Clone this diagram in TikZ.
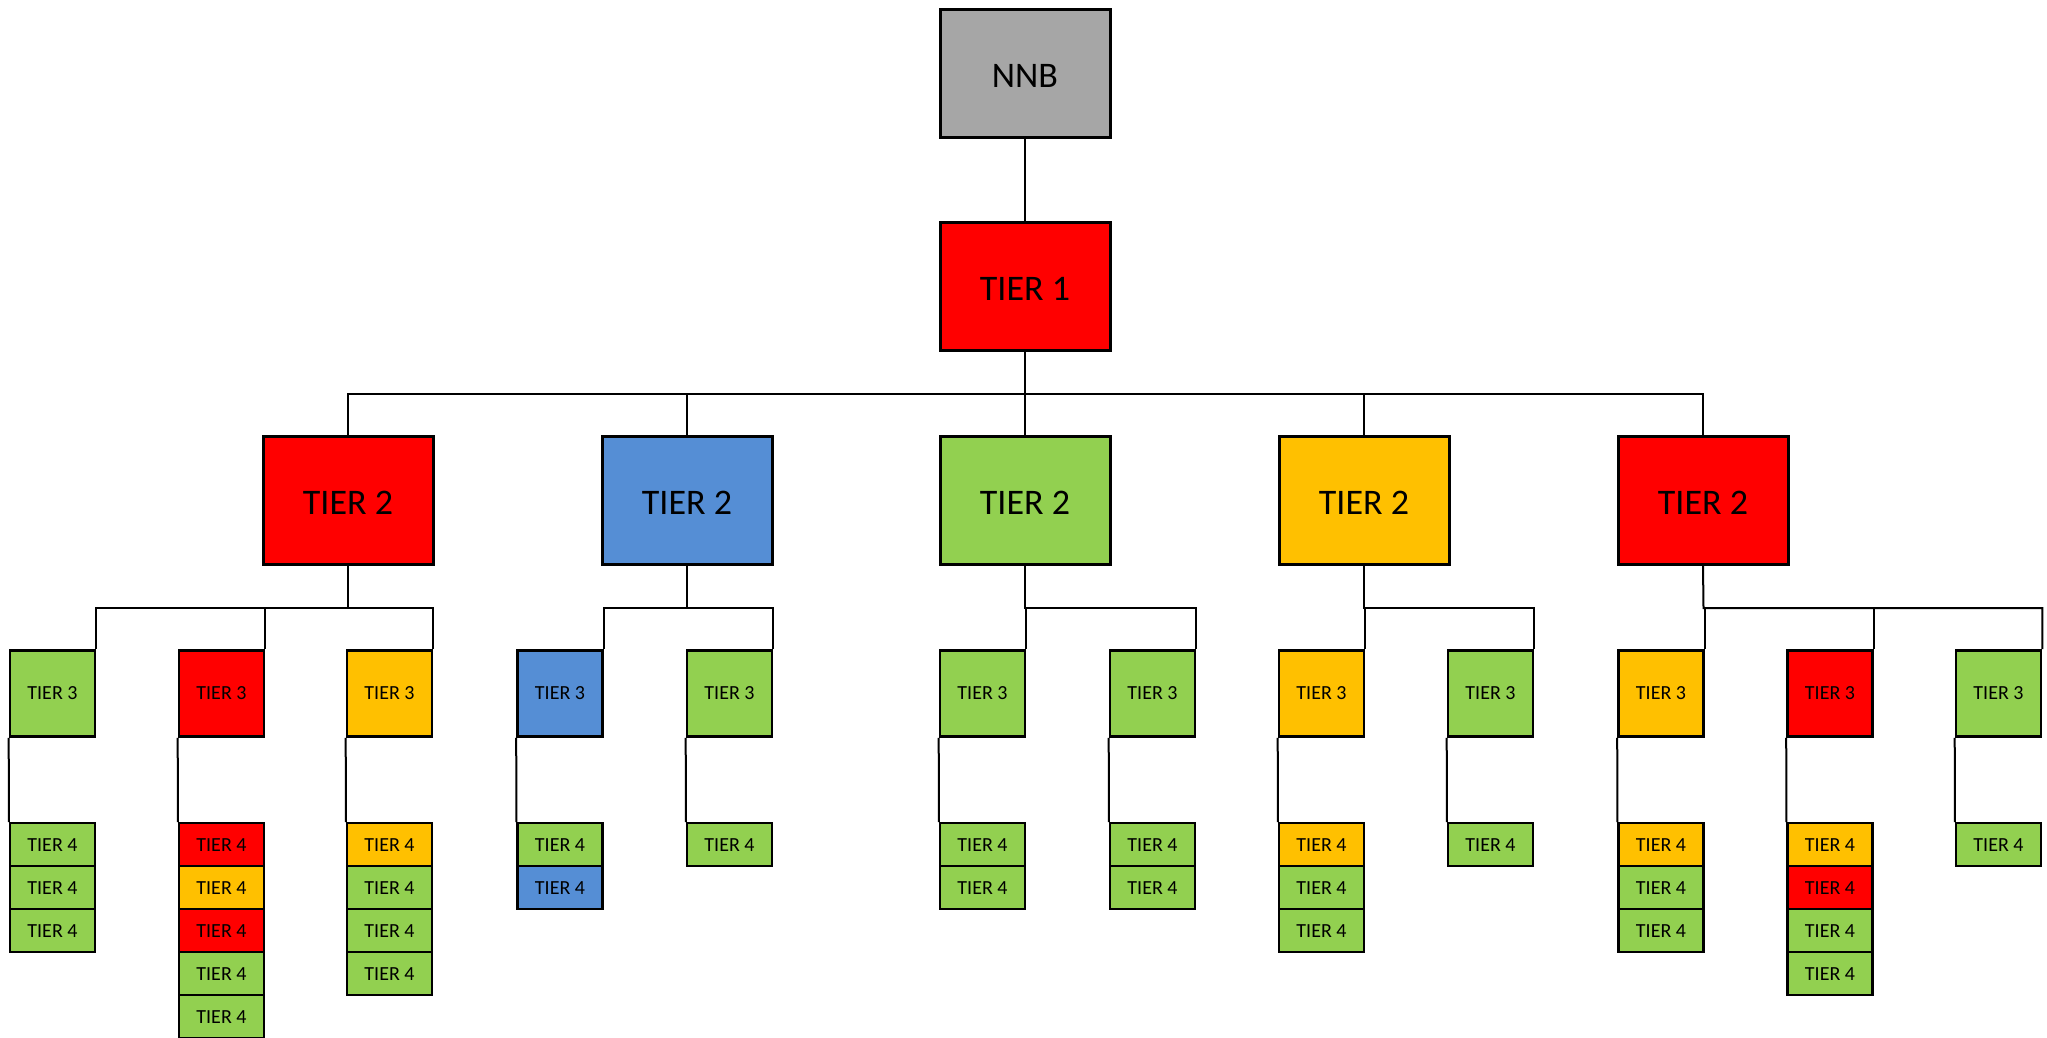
\documentclass[tikz,border=0pt]{standalone}
\usepackage{fontspec}
\setmainfont{Carlito}
\definecolor{cred}{HTML}{FF0000}
\definecolor{cblue}{HTML}{558ED5}
\definecolor{cgreen}{HTML}{92D050}
\definecolor{corange}{HTML}{FFC000}
\definecolor{cgrey}{HTML}{A6A6A6}
\tikzset{
  big/.style={draw, line width=3pt, minimum width=170pt, minimum height=128pt, inner sep=0pt,
    text height=28pt, text depth=0pt, font=\fontsize{36}{40}\selectfont},
  tthree/.style={draw, line width=2.6pt, minimum width=85pt, minimum height=86pt, inner sep=0pt, font=\fontsize{20}{22}\selectfont},
  tfour/.style={draw, line width=2.2pt, minimum width=85pt, minimum height=43pt, inner sep=0pt, anchor=north, font=\fontsize{20}{22}\selectfont},
  link/.style={line width=2pt},
}
\begin{document}
\begin{tikzpicture}[x=1pt,y=-1pt]
\useasboundingbox (0,0) rectangle (2047,1037);

% top levels
\node[big, fill=cgrey] (nnb) at (1025,73) {NNB};
\node[big, fill=cred] (t1) at (1025,286.5) {TIER 1};

% tier 2
\node[big, fill=cred]    (t2a) at (348,500.5)  {TIER 2};
\node[big, fill=cblue]   (t2b) at (687,500.5)  {TIER 2};
\node[big, fill=cgreen]  (t2c) at (1025,500.5) {TIER 2};
\node[big, fill=corange] (t2d) at (1364,500.5) {TIER 2};
\node[big, fill=cred]    (t2e) at (1703,500.5) {TIER 2};

% tier 3
\node[tthree, fill=cgreen]  (t3a1) at (52.5,693.5)   {TIER 3};
\node[tthree, fill=cred]    (t3a2) at (221.5,693.5)  {TIER 3};
\node[tthree, fill=corange] (t3a3) at (389.5,693.5)  {TIER 3};
\node[tthree, fill=cblue]   (t3b1) at (560,693.5)    {TIER 3};
\node[tthree, fill=cgreen]  (t3b2) at (729.5,693.5)  {TIER 3};
\node[tthree, fill=cgreen]  (t3c1) at (982.5,693.5)  {TIER 3};
\node[tthree, fill=cgreen]  (t3c2) at (1152.5,693.5) {TIER 3};
\node[tthree, fill=corange] (t3d1) at (1321.5,693.5) {TIER 3};
\node[tthree, fill=cgreen]  (t3d2) at (1490.5,693.5) {TIER 3};
\node[tthree, fill=corange] (t3e1) at (1661,693.5)   {TIER 3};
\node[tthree, fill=cred]    (t3e2) at (1830,693.5)   {TIER 3};
\node[tthree, fill=cgreen]  (t3e3) at (1998.5,693.5) {TIER 3};

% tier 4 stacks
\node[tfour, fill=cgreen] (t4a1a) at (52.5,822) {TIER 4};
\node[tfour, fill=cgreen] (t4a1b) at (52.5,865) {TIER 4};
\node[tfour, fill=cgreen] (t4a1c) at (52.5,908) {TIER 4};

\node[tfour, fill=cred]    (t4a2a) at (221.5,822) {TIER 4};
\node[tfour, fill=corange] (t4a2b) at (221.5,865) {TIER 4};
\node[tfour, fill=cred]    (t4a2c) at (221.5,908) {TIER 4};
\node[tfour, fill=cgreen]  (t4a2d) at (221.5,951) {TIER 4};
\node[tfour, fill=cgreen]  (t4a2e) at (221.5,994) {TIER 4};

\node[tfour, fill=corange] (t4a3a) at (389.5,822) {TIER 4};
\node[tfour, fill=cgreen]  (t4a3b) at (389.5,865) {TIER 4};
\node[tfour, fill=cgreen]  (t4a3c) at (389.5,908) {TIER 4};
\node[tfour, fill=cgreen]  (t4a3d) at (389.5,951) {TIER 4};

\node[tfour, fill=cgreen] (t4b1a) at (560,822) {TIER 4};
\node[tfour, fill=cblue]  (t4b1b) at (560,865) {TIER 4};

\node[tfour, fill=cgreen] (t4b2a) at (729.5,822) {TIER 4};

\node[tfour, fill=cgreen] (t4c1a) at (982.5,822) {TIER 4};
\node[tfour, fill=cgreen] (t4c1b) at (982.5,865) {TIER 4};

\node[tfour, fill=cgreen] (t4c2a) at (1152.5,822) {TIER 4};
\node[tfour, fill=cgreen] (t4c2b) at (1152.5,865) {TIER 4};

\node[tfour, fill=corange] (t4d1a) at (1321.5,822) {TIER 4};
\node[tfour, fill=cgreen]  (t4d1b) at (1321.5,865) {TIER 4};
\node[tfour, fill=cgreen]  (t4d1c) at (1321.5,908) {TIER 4};

\node[tfour, fill=cgreen] (t4d2a) at (1490.5,822) {TIER 4};

\node[tfour, fill=corange] (t4e1a) at (1661,822) {TIER 4};
\node[tfour, fill=cgreen]  (t4e1b) at (1661,865) {TIER 4};
\node[tfour, fill=cgreen]  (t4e1c) at (1661,908) {TIER 4};

\node[tfour, fill=corange] (t4e2a) at (1830,822) {TIER 4};
\node[tfour, fill=cred]    (t4e2b) at (1830,865) {TIER 4};
\node[tfour, fill=cgreen]  (t4e2c) at (1830,908) {TIER 4};
\node[tfour, fill=cgreen]  (t4e2d) at (1830,951) {TIER 4};

\node[tfour, fill=cgreen] (t4e3a) at (1998.5,822) {TIER 4};

% connectors: top levels
\draw[link] (nnb) -- (t1);
\coordinate (btop) at (1025,394);
\draw[link] (t1.south) -- (btop);
\draw[link] (t2a.north) |- (btop) -| (t2e.north);
\draw[link] (t2b.north) -- (t2b.north |- btop);
\draw[link] (t2c.north) -- (t2c.north |- btop);
\draw[link] (t2d.north) -- (t2d.north |- btop);

% connectors: tier 2 to tier 3
\coordinate (ba) at (348,608);
\draw[link] (t2a.south) -- (ba);
\draw[link] (t3a1.north east) |- (ba) -| (t3a3.north east);
\draw[link] (t3a2.north east) -- (t3a2.north east |- ba);

\coordinate (bb) at (687,608);
\draw[link] (t2b.south) -- (bb);
\draw[link] (t3b1.north east) |- (bb) -| (t3b2.north east);

\coordinate (bc) at (1025,608);
\draw[link] (t2c.south) -- (bc) -| (t3c2.north east);
\draw[link] (t3c1.north east) -- (t3c1.north east |- bc);

\coordinate (bd) at (1364,608);
\draw[link] (t2d.south) -- (bd) -| (t3d2.north east);
\draw[link] (t3d1.north east) -- (t3d1.north east |- bd);

\coordinate (be) at (1703.5,608);
\draw[link] (t2e.south) -- (be) -| (t3e3.north east);
\draw[link] (t3e1.north east) -- (t3e1.north east |- be);
\draw[link] (t3e2.north east) -- (t3e2.north east |- be);

% connectors: tier 3 to tier 4
\foreach \c in {a1,a2,a3,b1,b2,c1,c2,d1,d2,e1,e2,e3}
  \draw[link] (t3\c.south west) -- (t4\c a.north west);
\end{tikzpicture}
\end{document}
